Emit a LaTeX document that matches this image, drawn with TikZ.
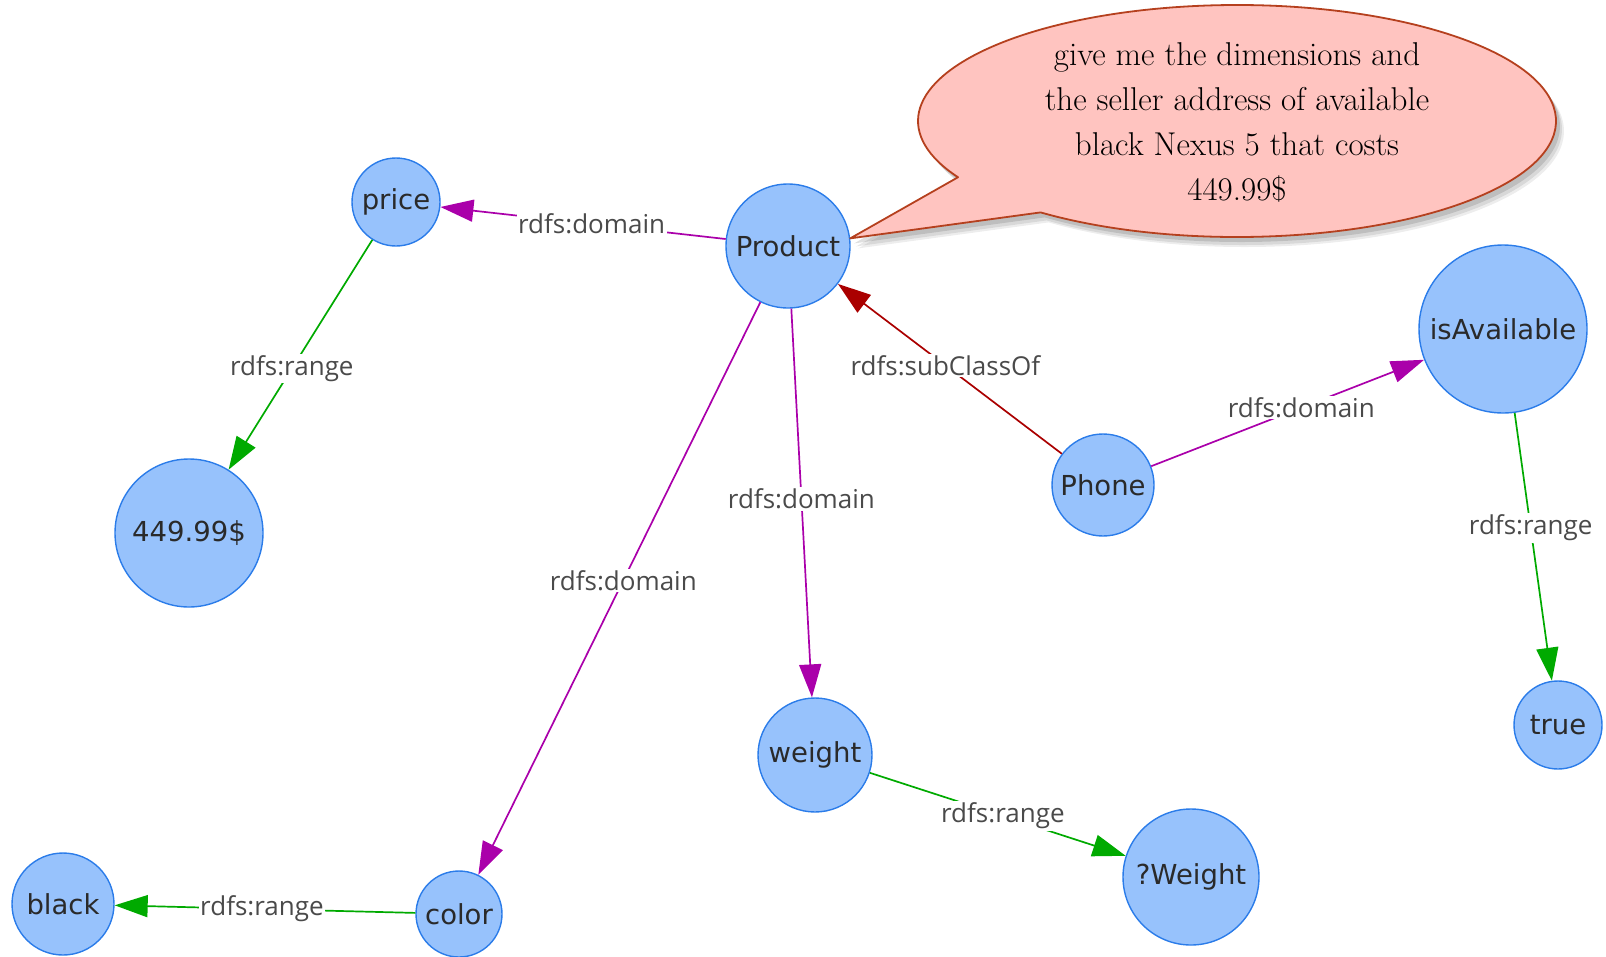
\documentclass[tikz,border=0pt]{standalone}
\usepackage{fontspec}
\usetikzlibrary{arrows.meta}
\newfontfamily\nodefont{DejaVu Sans}
\newfontfamily\edgefont{Open Sans}
\definecolor{nodefill}{HTML}{97C2FC}
\definecolor{nodeline}{HTML}{2B7CE9}
\definecolor{nodetext}{HTML}{2A2A2A}
\definecolor{edgetext}{HTML}{4A4A4A}
\definecolor{domaincol}{HTML}{AA00AA}
\definecolor{rangecol}{HTML}{00AA00}
\definecolor{subcol}{HTML}{AA0000}
\definecolor{bubblefill}{HTML}{FFC4C0}
\definecolor{bubbleline}{HTML}{B5401E}
\begin{document}
\begin{tikzpicture}[x=1pt,y=-1pt,
  concept/.style={circle, draw=nodeline, fill=nodefill, line width=1.4pt,
    inner sep=0pt, text=nodetext, font=\nodefont\fontsize{27.5}{30}\selectfont},
  rel/.style={line width=1.7pt, -{Triangle[length=33pt,width=22pt]}},
  domainedge/.style={rel, color=domaincol},
  rangeedge/.style={rel, color=rangecol},
  subedge/.style={rel, color=subcol},
  lbl/.style={fill=white, inner sep=1.5pt, text=edgetext,
    font=\edgefont\fontsize{26}{30}\selectfont}]
\useasboundingbox (0,0) rectangle (1606,956);

% concepts
\node[concept, minimum size=88pt]  (price)   at (396,202)  {price};
\node[concept, minimum size=124pt] (product) at (788,246)  {Product};
\node[concept, minimum size=148pt] (cost)    at (189,533)  {449.99\$};
\node[concept, minimum size=102pt] (phone)   at (1103,485) {Phone};
\node[concept, minimum size=168pt] (avail)   at (1503,329) {isAvailable};
\node[concept, minimum size=88pt]  (true)    at (1558,725) {true};
\node[concept, minimum size=114pt] (weight)  at (815,755)  {weight};
\node[concept, minimum size=136pt] (qweight) at (1191,877) {?Weight};
\node[concept, minimum size=86pt]  (color)   at (459,914)  {color};
\node[concept, minimum size=102pt] (black)   at (63,904)   {black};

% relations
\draw[domainedge] (product) -- node[lbl, pos=0.47] {rdfs:domain} (price);
\draw[rangeedge]  (price) -- node[lbl, pos=0.56] {rdfs:range} (cost);
\draw[domainedge] (product) -- node[lbl, pos=0.486] {rdfs:domain} (color);
\draw[domainedge] (product) -- node[lbl, pos=0.49] {rdfs:domain} (weight);
\draw[subedge]    (phone) -- node[lbl, pos=0.52] {rdfs:subClassOf} (product);
\draw[domainedge] (phone) -- node[lbl, pos=0.55] {rdfs:domain} (avail);
\draw[rangeedge]  (avail) -- node[lbl, pos=0.43] {rdfs:range} (true);
\draw[rangeedge]  (weight) -- node[lbl, pos=0.52] {rdfs:range} (qweight);
\draw[rangeedge]  (color) -- node[lbl, pos=0.51] {rdfs:range} (black);

% speech bubble with soft shadow
\foreach \dx/\dy/\op in {8/10/0.07, 6/8/0.09, 4/5/0.12} {
  \fill[black, opacity=\op]
    ([shift={(1237+\dx,121+\dy)}]151:319 and 116) -- ([shift={(\dx,\dy)}]product.7)
    -- ([shift={(1237+\dx,121+\dy)}]128:319 and 116)
    arc[start angle=128, end angle=-209, x radius=319, y radius=116] -- cycle;
}
\filldraw[fill=bubblefill, draw=bubbleline, line width=1.8pt, line join=round]
  ([shift={(1237,121)}]151:319 and 116) -- (product.7)
  -- ([shift={(1237,121)}]128:319 and 116)
  arc[start angle=128, end angle=-209, x radius=319, y radius=116] -- cycle;
\node[align=center, font=\fontsize{33}{45}\selectfont] (question) at (1237,122)
  {give me the dimensions and\\the seller address of available\\black Nexus 5 that costs\\449.99\$};
\end{tikzpicture}
\end{document}
